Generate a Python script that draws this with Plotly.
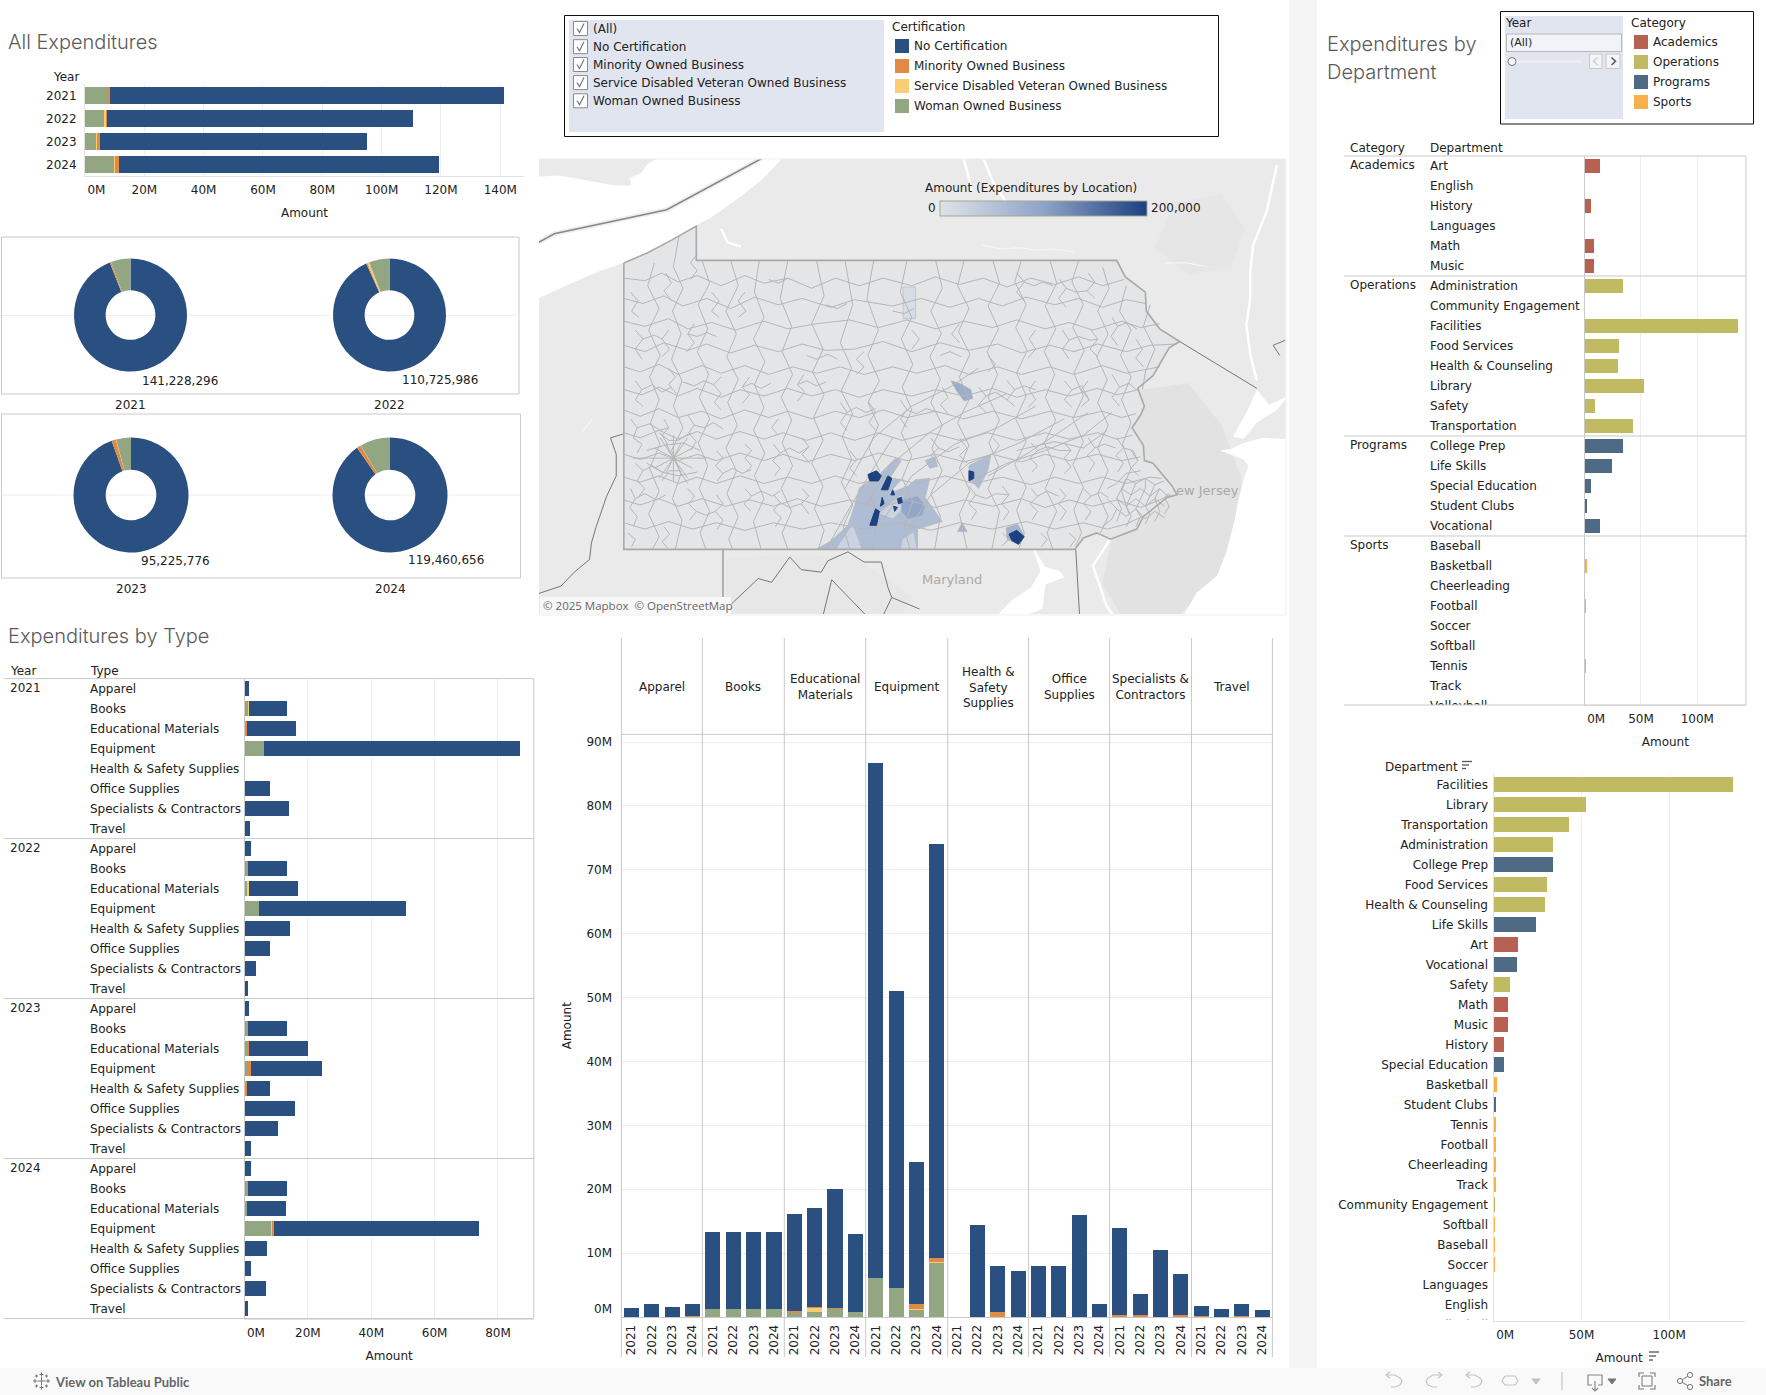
import numpy as np
import plotly.graph_objects as go
from plotly.colors import sample_colorscale

W, H = 1766, 1395
FONT = "DejaVu Sans"
TXT = "#222222"
GRID = "#eeeeee"
RULE = "#c9c9c9"

# ---------- data ----------
years = ["2021", "2022", "2023", "2024"]
cert_names = ["No Certification", "Minority Owned Business", "Service Disabled Veteran Owned Business", "Woman Owned Business"]
cert_colors = {"No Certification": "#2a5082", "Minority Owned Business": "#e08a46",
               "Service Disabled Veteran Owned Business": "#f8cd74", "Woman Owned Business": "#93a682"}

year_total = [141.228296, 110.725986, 95.225776, 119.460656]
year_woman = [7.9, 6.5, 3.95, 10.1]
year_service = [0.0, 0.6, 0.1, 0.1]
year_minority = [0.55, 0.4, 1.15, 1.4]
donut_labels = ["141,228,296", "110,725,986", "95,225,776", "119,460,656"]

type_names = ["Apparel", "Books", "Educational Materials", "Equipment", "Health & Safety Supplies",
              "Office Supplies", "Specialists & Contractors", "Travel"]
type_headers = ["Apparel", "Books", "Educational<br>Materials", "Equipment", "Health &<br>Safety<br>Supplies",
                "Office<br>Supplies", "Specialists &<br>Contractors", "Travel"]
# rows = type, columns = 2021..2024, millions
type_total = [[1.37, 2.06, 1.5, 2.06], [13.3, 13.3, 13.3, 13.3], [16.1, 17.0, 20.0, 13.0], [86.8, 51.1, 24.3, 74.1],
              [0.0, 14.35, 7.94, 7.2], [7.94, 7.94, 16.0, 2.06], [13.9, 3.6, 10.45, 6.7], [1.7, 1.2, 2.06, 1.07]]
type_woman = [[0, 0, 0, 0], [1.2, 1.2, 1.2, 1.2], [0.6, 0.75, 1.2, 0.75], [6.1, 4.5, 1.1, 8.5],
              [0, 0, 0, 0], [0, 0, 0, 0], [0, 0, 0, 0], [0, 0, 0, 0]]
type_service = [[0, 0, 0, 0], [0.1, 0, 0, 0], [0, 0.6, 0, 0], [0, 0, 0.1, 0.1],
                [0, 0, 0, 0], [0, 0, 0, 0], [0, 0, 0, 0], [0, 0, 0, 0]]
type_minority = [[0, 0, 0, 0.15], [0, 0, 0, 0], [0.3, 0.15, 0.2, 0], [0, 0.1, 0.9, 0.65],
                 [0, 0, 0.75, 0], [0, 0, 0, 0], [0.3, 0.3, 0, 0.3], [0.15, 0, 0.15, 0]]

categories = ["Academics", "Operations", "Programs", "Sports"]
category_colors = {"Academics": "#b76152", "Operations": "#c0bb62", "Programs": "#4f6a84", "Sports": "#f9b04b"}
dept_sorted = ["Facilities", "Library", "Transportation", "Administration", "College Prep", "Food Services",
               "Health & Counseling", "Life Skills", "Art", "Vocational", "Safety", "Math", "Music", "History",
               "Special Education", "Basketball", "Student Clubs", "Tennis", "Football", "Cheerleading", "Track",
               "Community Engagement", "Softball", "Baseball", "Soccer", "Languages", "English", "Volleyball"]
dept_amount = [136.3, 52.6, 42.9, 33.8, 33.8, 30.4, 29.2, 24.1, 13.9, 13.3, 9.3, 8.2, 8.2, 5.9, 5.9, 1.9, 1.3,
               0.7, 0.7, 0.6, 0.6, 0.5, 0.5, 0.5, 0.5, 0.0, 0.0, 0.0]
dept_category = ["Operations", "Operations", "Operations", "Operations", "Programs", "Operations", "Operations",
                 "Programs", "Academics", "Programs", "Operations", "Academics", "Academics", "Academics",
                 "Programs", "Sports", "Programs", "Sports", "Sports", "Sports", "Sports", "Operations", "Sports",
                 "Sports", "Sports", "Academics", "Academics", "Sports"]

# ---------- map geography (lon, lat) ----------
pa_outline = [(-80.52, 41.98), (-80.27, 42.06), (-80.02, 42.16), (-79.76, 42.27), (-79.76, 42.0), (-75.35, 42.0),
              (-75.26, 41.87), (-75.05, 41.75), (-75.04, 41.60), (-74.90, 41.46), (-74.69, 41.36), (-74.80, 41.31),
              (-74.97, 41.09), (-75.13, 40.99), (-75.06, 40.85), (-75.10, 40.78), (-75.19, 40.68), (-75.07, 40.54),
              (-75.06, 40.42), (-74.97, 40.40), (-74.77, 40.22), (-74.72, 40.15), (-74.82, 40.13), (-75.07, 39.98),
              (-75.14, 39.88), (-75.415, 39.80), (-75.56, 39.85), (-75.70, 39.81), (-75.79, 39.72), (-80.52, 39.72)]
lake_erie = [(-81.42, 42.66), (-81.21, 42.67), (-80.97, 42.64), (-80.62, 42.59), (-80.44, 42.59), (-80.46, 42.65),
             (-80.34, 42.69), (-80.27, 42.76), (-80.16, 42.81), (-78.85, 42.81), (-79.08, 42.63), (-79.32, 42.49),
             (-79.60, 42.34), (-79.78, 42.27), (-80.02, 42.16), (-80.27, 42.06), (-80.53, 41.98), (-80.79, 41.91),
             (-81.07, 41.82), (-81.42, 41.70)]
atlantic = [(-73.55, 40.59), (-73.81, 40.60), (-74.02, 40.56), (-74.16, 40.51), (-74.27, 40.50), (-74.02, 40.43),
            (-73.97, 40.38), (-74.02, 40.27), (-74.08, 40.09), (-74.11, 39.96), (-74.20, 39.70), (-74.30, 39.51),
            (-74.51, 39.38), (-74.65, 39.20), (-73.55, 39.20)]
ny_harbor = [(-73.88, 40.98), (-73.99, 40.80), (-74.13, 40.61), (-74.02, 40.59), (-73.88, 40.72), (-73.67, 40.82),
             (-73.55, 40.93), (-73.75, 40.86)]
chesapeake = [(-76.24, 39.75), (-76.10, 39.58), (-75.95, 39.55), (-75.90, 39.50), (-76.10, 39.44), (-76.13, 39.25),
              (-76.30, 39.20), (-76.60, 39.20), (-76.45, 39.32), (-76.25, 39.42), (-76.15, 39.55)]
dark_land = [[(-75.10, 40.98), (-74.60, 41.03), (-74.25, 40.70), (-74.05, 40.30), (-74.00, 39.95), (-74.20, 39.55),
              (-74.70, 39.20), (-75.30, 39.20), (-75.50, 39.45), (-75.40, 39.82), (-75.05, 40.00), (-74.72, 40.16),
              (-75.05, 40.42), (-75.18, 40.68)],
             [(-74.75, 42.45), (-74.25, 42.52), (-74.00, 42.25), (-74.15, 41.95), (-74.60, 41.88), (-74.95, 42.10)],
             [(-79.45, 39.65), (-78.80, 39.68), (-78.10, 39.66), (-77.50, 39.35), (-77.60, 39.20), (-79.45, 39.20)]]
water_lines = [[(-79.50, 42.25), (-79.43, 42.14), (-79.29, 42.11)], [(-76.96, 42.81), (-76.90, 42.65), (-76.87, 42.54)],
               [(-76.75, 42.81), (-76.65, 42.62), (-76.51, 42.46)],
               [(-73.67, 42.75), (-73.78, 42.38), (-73.92, 42.12), (-73.95, 41.91), (-73.95, 41.70), (-73.99, 41.49),
                (-73.95, 41.26), (-73.88, 41.05)],
               [(-75.42, 39.80), (-75.53, 39.67), (-75.60, 39.59), (-75.54, 39.46), (-75.46, 39.28), (-75.39, 39.20)]]
stream_lines = [[(-76.76, 42.12), (-76.55, 42.09), (-76.35, 42.10), (-76.20, 42.08), (-76.05, 42.09), (-75.80, 42.07)],
                [(-74.85, 41.98), (-74.62, 41.98), (-74.40, 41.95)], [(-80.85, 40.75), (-80.95, 40.65)],
                [(-76.24, 39.75), (-76.30, 39.82)]]
border_lines = [[(-81.42, 42.14), (-81.25, 42.21), (-80.07, 42.40), (-79.06, 42.81)]]
thin_borders = [[(-80.53, 40.63), (-80.66, 40.60), (-80.60, 40.47), (-80.60, 40.30), (-80.70, 40.14), (-80.81, 39.90),
                 (-80.86, 39.77), (-80.88, 39.64), (-81.04, 39.54), (-81.18, 39.43), (-81.42, 39.37)],
                [(-79.48, 39.72), (-79.48, 39.20)],
                [(-79.39, 39.29), (-79.11, 39.49), (-78.97, 39.46), (-78.78, 39.66), (-78.66, 39.56), (-78.45, 39.54),
                 (-78.38, 39.63), (-78.17, 39.70), (-78.00, 39.62), (-77.82, 39.62), (-77.75, 39.42), (-77.71, 39.34),
                 (-77.42, 39.25)],
                [(-78.34, 39.48), (-78.43, 39.20)], [(-78.34, 39.48), (-77.98, 39.20)], [(-77.71, 39.34), (-77.80, 39.20)],
                [(-75.78, 39.72), (-75.74, 39.20)],
                [(-74.69, 41.36), (-73.88, 40.99)],
                [(-73.55, 41.38), (-73.71, 41.33), (-73.64, 41.25)]]

# hand-traced, coarse school-district boundaries: west longitude*100, latitude*100
district_lines = [
    [8052,4186,8030,4184,8012,4190,7995,4183,7975,4188,7950,4180,7925,4188,7905,4182,7880,4186,7855,4178,7830,4186,7805,4180,7780,4186,7750,4180,7725,4187,7700,4181,7675,4186,7650,4179,7625,4186,7600,4181,7575,4187,7550,4180,7527,4185],
    [8052,4170,8032,4166,8010,4172,7990,4164,7965,4170,7940,4162,7915,4171,7890,4165,7865,4170,7835,4163,7810,4169,7770,4164,7740,4170,7710,4163,7680,4170,7655,4164,7630,4171,7600,4165,7575,4170,7550,4163,7525,4169,7505,4166],
    [8052,4152,8030,4148,8005,4154,7985,4146,7960,4151,7935,4145,7905,4152,7880,4146,7850,4150,7815,4153,7785,4147,7755,4153,7725,4146,7695,4152,7665,4147,7640,4153,7610,4146,7585,4151,7560,4145,7530,4152,7510,4147,7490,4150],
    [8052,4133,8030,4128,8010,4135,7985,4129,7965,4134,7940,4127,7915,4133,7890,4128,7865,4134,7840,4129,7810,4130,7780,4136,7750,4128,7720,4135,7690,4129,7660,4134,7635,4127,7605,4133,7580,4128,7555,4134,7525,4128,7500,4133,7472,4134],
    [8052,4116,8035,4112,8015,4118,7995,4110,7970,4117,7950,4111,7925,4117,7900,4110,7875,4116,7850,4111,7825,4116,7800,4110,7770,4116,7745,4111,7715,4117,7690,4110,7660,4116,7635,4110,7605,4116,7580,4110,7550,4117,7525,4111,7490,4116],
    [8052,4098,8033,4094,8015,4100,7995,4093,7975,4099,7950,4092,7930,4098,7905,4093,7880,4099,7855,4093,7830,4098,7805,4092,7780,4098,7750,4093,7725,4098,7695,4093,7665,4099,7640,4092,7610,4098,7585,4093,7555,4099,7535,4094,7512,4098],
    [8052,4082,8035,4077,8015,4083,7995,4076,7970,4081,7950,4075,7925,4082,7900,4076,7880,4081,7855,4075,7830,4081,7805,4076,7780,4082,7755,4076,7725,4081,7695,4075,7665,4081,7635,4075,7605,4081,7580,4076,7550,4081,7530,4076,7515,4079],
    [8052,4064,8035,4060,8015,4066,7995,4059,7975,4065,7955,4059,7930,4065,7905,4059,7885,4064,7860,4058,7835,4064,7810,4058,7785,4064,7760,4058,7730,4064,7700,4058,7670,4064,7640,4058,7610,4064,7585,4059,7555,4064,7535,4059,7519,4062],
    [8052,4047,8035,4043,8015,4048,7995,4042,7975,4047,7955,4042,7930,4048,7905,4042,7885,4047,7860,4041,7835,4047,7810,4042,7785,4048,7755,4042,7725,4047,7695,4041,7665,4047,7635,4041,7610,4047,7585,4042,7555,4047,7530,4042,7510,4045],
    [8052,4029,8035,4025,8015,4030,7995,4024,7975,4029,7955,4024,7930,4030,7905,4024,7880,4029,7855,4024,7830,4030,7805,4024,7775,4029,7745,4024,7715,4030,7685,4024,7655,4029,7625,4023,7600,4029,7575,4024,7550,4029,7525,4024,7500,4029,7488,4028],
    [8052,4011,8035,4007,8015,4012,7995,4006,7970,4012,7945,4006,7920,4011,7895,4006,7870,4012,7845,4006,7815,4011,7785,4005,7755,4011,7725,4005,7695,4011,7665,4006,7635,4012,7610,4005,7585,4011,7560,4006,7535,4011,7510,4005,7490,4011,7478,4015],
    [8052,3993,8030,3988,8005,3994,7980,3988,7955,3993,7925,3987,7895,3993,7865,3988,7835,3993,7800,3988,7765,3993,7730,3987,7700,3993,7665,3988,7630,3994,7600,3988,7570,3993,7545,3988,7525,3992,7508,3998],
    [8020,4198,8027,4180,8015,4162,8026,4145,8014,4125,8025,4108,8015,4090,8024,4072,8014,4055,8025,4036,8015,4018,8026,4000,8015,3982,8022,3972],
    [7994,4220,8000,4195,7990,4178,8001,4160,7992,4142,8002,4122,7991,4105,8000,4085,7990,4068,8002,4050,7992,4032,8001,4012,7991,3995,7998,3972],
    [7970,4200,7962,4182,7974,4165,7964,4146,7975,4128,7963,4110,7973,4092,7962,4075,7974,4056,7964,4038,7973,4020,7962,4002,7972,3985,7966,3972],
    [7940,4200,7932,4180,7945,4160,7934,4142,7944,4124,7932,4106,7943,4088,7933,4070,7945,4052,7934,4034,7944,4016,7932,3998,7942,3980,7938,3972],
    [7910,4200,7915,4175,7905,4155,7916,4138,7904,4120,7915,4102,7905,4084,7916,4066,7904,4048,7915,4030,7905,4012,7916,3994,7908,3972],
    [7880,4200,7888,4170,7876,4148,7886,4128,7875,4110,7887,4092,7876,4074,7886,4056,7875,4038,7887,4020,7876,4002,7886,3985,7880,3972],
    [7850,4200,7842,4172,7855,4150,7843,4130,7854,4112,7842,4094,7853,4076,7843,4058,7855,4040,7843,4022,7852,4004,7842,3987,7848,3972],
    [7820,4200,7812,4165,7825,4135,7813,4115,7824,4097,7812,4079,7823,4061,7813,4043,7824,4025,7812,4007,7822,3990,7815,3972],
    [7790,4200,7797,4170,7785,4145,7796,4125,7784,4105,7796,4088,7785,4070,7795,4052,7784,4034,7795,4016,7785,3998,7792,3972],
    [7755,4200,7762,4175,7750,4155,7761,4138,7749,4118,7760,4100,7750,4082,7761,4064,7750,4046,7760,4028,7749,4010,7758,3990,7752,3972],
    [7725,4200,7718,4178,7730,4160,7719,4142,7731,4124,7720,4106,7730,4088,7718,4070,7729,4052,7718,4034,7730,4016,7720,3998,7726,3972],
    [7695,4200,7702,4180,7690,4162,7701,4144,7689,4126,7700,4108,7690,4090,7702,4072,7690,4054,7700,4036,7689,4018,7700,4000,7692,3972],
    [7665,4200,7658,4182,7670,4164,7659,4146,7671,4128,7660,4110,7670,4092,7658,4074,7669,4056,7659,4038,7670,4020,7658,4002,7666,3972],
    [7635,4200,7642,4183,7630,4165,7641,4147,7629,4129,7640,4111,7630,4093,7641,4075,7630,4057,7642,4039,7630,4021,7640,4003,7632,3985,7638,3972],
    [7605,4200,7598,4182,7610,4164,7599,4146,7611,4128,7600,4110,7610,4092,7599,4074,7611,4056,7600,4038,7610,4020,7598,4002,7608,3985,7602,3972],
    [7575,4200,7582,4183,7570,4165,7581,4147,7569,4129,7580,4111,7570,4093,7581,4075,7570,4057,7581,4039,7570,4021,7580,4003,7572,3985,7578,3975],
    [7550,4195,7543,4178,7555,4160,7544,4142,7556,4124,7545,4106,7555,4088,7544,4070,7555,4052,7544,4034,7555,4016,7544,3998,7552,3985],
    [7525,4180,7532,4160,7520,4145,7531,4125,7520,4108,7530,4090,7520,4072,7529,4055,7520,4036,7530,4018,7522,4000],
    [7500,4165,7507,4148,7495,4130,7505,4112,7508,4098],
    [7820,4020,7790,4060,7750,4085,7710,4100,7680,4115],
    [7800,4005,7770,4040,7730,4065,7695,4080,7650,4095],
    [7780,3995,7750,4030,7705,4055,7660,4068,7620,4085],
    [7760,3980,7730,4015,7690,4040,7640,4055,7590,4075],
    [7690,4025,7650,4040,7610,4050,7570,4062,7540,4080],
    [7670,4030,7630,4047,7600,4062,7565,4080],
    [7840,3972,7815,4005,7795,4030,7770,4060],
    [7640,4050,7600,4057,7570,4052,7545,4066],
    [8042,4044,8030,4044,8000,4044,7985,4044,7965,4044],
    [8014,4060,8000,4044,7985,4028], [7985,4060,8000,4044,8015,4028], [8000,4062,8000,4044,8000,4026],
    [8020,4052,8000,4044,7980,4036], [8020,4036,8000,4044,7980,4052], [8008,4056,8000,4044,7992,4032],
    [7992,4056,8000,4044,8008,4032], [8028,4040,8012,4033,7995,4030,7975,4033], [8028,4050,8010,4054,7990,4056,7972,4050],
    [8015,4064,8005,4058,7995,4058,7982,4064], [8012,4026,8004,4034,7994,4034,7985,4024],
    [7535,4004,7525,3998,7515,4004,7505,3996,7495,4002,7485,3997], [7535,4012,7525,4006,7515,4012,7505,4006,7495,4012,7485,4006],
    [7530,4020,7520,4015,7510,4020,7500,4014,7490,4020,7480,4013], [7525,4028,7515,4024,7505,4028,7495,4023,7485,4026],
    [7535,3994,7530,4004,7535,4012,7530,4020,7525,4028], [7525,3990,7520,3998,7525,4006,7520,4015,7515,4024],
    [7515,3990,7510,3998,7515,4004,7510,4012,7505,4020,7505,4028], [7505,3992,7500,4000,7505,4006,7500,4014,7495,4023],
    [7495,3994,7490,4002,7495,4012,7490,4020], [7485,4000,7480,4006,7485,4013,7480,4016],
    [7550,3990,7540,3996,7535,4004,7545,4012], [7545,4020,7535,4024,7525,4032,7510,4034],
    [8045,4075,8038,4068,8042,4060,8033,4055,8038,4048], [8040,4040,8032,4034,8038,4026,8030,4020,8036,4014],
    [8045,4020,8040,4012,8046,4005,8038,3998,8042,3990], [8048,3985,8040,3980,8044,3974],
    [8010,4075,8005,4068,8012,4062,8006,4055], [7985,4078,7978,4070,7984,4064,7976,4057,7982,4050],
    [7985,4020,7978,4014,7984,4008,7976,4002,7983,3995], [8010,3990,8004,3984,8012,3978,8006,3973],
    [7955,4015,7948,4008,7956,4002,7948,3995,7954,3988], [7955,4050,7948,4044,7956,4038,7948,4032,7954,4026],
    [7925,4055,7918,4050,7925,4044,7918,4038,7924,4033], [7925,4020,7918,4014,7926,4008,7919,4002],
    [7895,4055,7888,4048,7896,4042,7888,4036,7894,4030], [7895,4015,7888,4009,7895,4003,7887,3997,7893,3990],
    [7865,4060,7858,4053,7865,4047,7857,4040], [7865,4020,7858,4014,7866,4008,7858,4000],
    [8040,4105,8033,4098,8040,4090,8032,4085], [8005,4115,7998,4108,8005,4102,7997,4095],
    [7950,4108,7958,4102,7950,4095,7957,4088,7950,4082], [7920,4108,7928,4100,7920,4094,7928,4087],
    [7890,4075,7897,4068,7890,4062], [7863,4110,7870,4102,7862,4096,7870,4089],
    [8040,4145,8032,4138,8040,4130,8033,4122], [8005,4145,8012,4138,8004,4130,8012,4124],
    [7978,4150,7985,4142,7978,4135,7986,4128], [8045,4175,8037,4168,8044,4160,8036,4155],
    [8008,4190,8002,4182,8010,4176,8002,4168], [7975,4205,7982,4198,7975,4192,7982,4185],
    [7960,4175,7952,4168,7960,4160,7952,4155], [7925,4175,7932,4168,7924,4160,7932,4155],
    [7718,4100,7712,4092,7720,4086,7712,4079], [7680,4100,7672,4093,7680,4086,7672,4080],
    [7650,4105,7642,4098,7650,4090,7642,4085], [7620,4105,7627,4098,7620,4090,7628,4084],
    [7590,4105,7582,4098,7590,4090,7582,4084], [7565,4105,7572,4098,7564,4090,7572,4085],
    [7540,4110,7532,4100,7540,4092,7532,4085], [7620,4145,7627,4138,7620,4130,7628,4123],
    [7592,4145,7585,4137,7592,4130,7585,4122], [7562,4145,7555,4138,7563,4130,7555,4124],
    [7540,4155,7534,4148,7541,4140,7534,4133], [7515,4138,7508,4130,7515,4123,7507,4116],
    [7595,4185,7588,4178,7596,4170,7588,4163], [7565,4190,7558,4183,7566,4176,7558,4170],
    [7640,4190,7632,4183,7640,4175,7632,4168],
    [7690,4022,7683,4015,7690,4008,7682,4002,7688,3995], [7655,4022,7648,4015,7656,4008,7648,4002,7654,3995],
    [7625,4020,7618,4014,7626,4008,7618,4002,7624,3995], [7595,4020,7588,4014,7596,4008,7588,4002,7594,3995],
    [7570,4020,7562,4014,7570,4008,7562,4002,7568,3995], [7655,3985,7648,3980,7655,3975],
    [7615,3985,7608,3980,7614,3974], [7585,3985,7578,3980,7584,3974],
    [7625,4056,7618,4050,7626,4044,7618,4038,7624,4033], [7590,4056,7583,4050,7590,4044,7583,4037,7590,4032],
    [7565,4060,7558,4052,7566,4046,7558,4040,7564,4033], [7535,4060,7528,4052,7536,4046,7528,4040,7534,4033],
    [7520,4050,7513,4042,7520,4036,7512,4030],
    [7825,4088,7818,4080,7825,4072,7818,4066], [7795,4088,7788,4080,7795,4072,7788,4066],
    [7762,4090,7755,4082,7762,4075,7755,4068], [7730,4060,7722,4052,7730,4046,7722,4040],
    [7700,4060,7692,4052,7700,4046,7692,4040], [7665,4060,7658,4054,7665,4047],
    [7815,4050,7808,4043,7815,4036,7808,4030], [7800,4128,7808,4122,7800,4116,7808,4110],
    [7750,4145,7742,4138,7750,4130], [7700,4150,7708,4142,7700,4135], [7670,4125,7662,4118,7670,4112],
    [8033,4098,8022,4102,8012,4096,8002,4100], [8038,4068,8025,4071,8014,4066,8005,4068],
    [8032,4034,8022,4038,8012,4033], [8040,4012,8030,4016,8018,4011,8008,4015],
    [7978,4070,7968,4068,7958,4072,7948,4067], [7976,4002,7966,3999,7956,4002],
    [7948,4032,7938,4036,7928,4032,7918,4035], [7918,4014,7908,4018,7896,4014,7888,4018],
    [7888,4048,7878,4052,7868,4048,7858,4053], [7888,4009,7878,4005,7866,4008],
    [7958,4102,7968,4105,7978,4101,7990,4104], [7928,4100,7918,4103,7908,4099,7898,4103],
    [8032,4138,8020,4141,8012,4138], [7985,4142,7975,4140,7965,4143,7955,4140],
    [7870,4102,7860,4105,7850,4101,7840,4104], [7818,4080,7808,4084,7798,4080,7788,4083],
    [7672,4093,7662,4096,7650,4090], [7642,4098,7632,4101,7620,4098],
    [7582,4098,7572,4101,7564,4090], [7532,4100,7522,4103,7515,4098],
    [7585,4137,7575,4140,7563,4137,7555,4138], [7534,4148,7524,4151,7514,4146],
    [7588,4178,7578,4175,7566,4176], [7632,4183,7622,4180,7612,4183,7602,4180],
    [7683,4015,7672,4012,7662,4016,7648,4015], [7618,4014,7608,4018,7596,4014],
    [7618,4050,7608,4053,7596,4050,7583,4050], [7558,4052,7548,4055,7536,4052],
    [7562,4014,7552,4017,7544,4013], [7528,4052,7518,4050,7513,4042],
    [7755,4082,7745,4079,7735,4083,7722,4080], [7722,4052,7712,4049,7700,4053],
    [7900,4185,7890,4182,7880,4186], [7840,4165,7828,4162,7818,4166], [7770,4160,7758,4158,7748,4162],
    [7720,4125,7710,4128,7698,4124], [7860,4125,7850,4122,7838,4126,7828,4122],
]

# shaded districts: amount, outline
shaded_districts = [
    (9000, [(-77.59, 41.79), (-77.46, 41.79), (-77.46, 41.54), (-77.59, 41.54)]),
    (60000, [(-78.50, 39.72), (-78.35, 39.785), (-78.17, 39.91), (-78.10, 40.065), (-78.05, 40.205), (-77.84, 40.31),
             (-77.67, 40.44), (-77.61, 40.42), (-77.74, 40.27), (-77.61, 40.27), (-77.74, 40.16), (-77.54, 40.22),
             (-77.46, 40.27), (-77.31, 40.28), (-77.36, 40.13), (-77.18, 39.94), (-77.44, 39.88), (-77.44, 39.72)]),
    (25000, [(-78.30, 39.72), (-78.12, 39.92), (-78.02, 39.72)]),
    (25000, [(-77.85, 40.00), (-77.62, 40.15), (-77.55, 40.06), (-77.70, 39.96)]),
    (25000, [(-77.60, 39.80), (-77.48, 39.86), (-77.44, 39.72), (-77.62, 39.72)]),
    (95000, [(-77.61, 40.11), (-77.44, 40.14), (-77.36, 40.065), (-77.39, 39.99), (-77.54, 39.96), (-77.61, 40.02)]),
    (85000, [(-77.09, 41.05), (-77.0, 41.03), (-76.88, 40.98), (-76.86, 40.91), (-76.95, 40.89), (-77.03, 40.97)]),
    (60000, [(-76.90, 40.38), (-76.67, 40.47), (-76.70, 40.345), (-76.80, 40.2), (-76.90, 40.28)]),
    (60000, [(-77.36, 40.42), (-77.26, 40.45), (-77.23, 40.375), (-77.31, 40.36)]),
    (75000, [(-77.02, 39.86), (-76.97, 39.93), (-76.92, 39.86)]),
    (75000, [(-76.51, 39.89), (-76.39, 39.92), (-76.32, 39.83), (-76.39, 39.76), (-76.50, 39.80)]),
    (200000, [(-77.96, 40.31), (-77.87, 40.34), (-77.82, 40.30), (-77.85, 40.26), (-77.94, 40.26)]),
    (200000, [(-77.75, 40.30), (-77.71, 40.28), (-77.75, 40.19), (-77.82, 40.19)]),
    (200000, [(-77.70, 40.19), (-77.68, 40.15), (-77.72, 40.15)]),
    (200000, [(-77.81, 40.13), (-77.79, 40.08), (-77.83, 40.06)]),
    (200000, [(-77.88, 40.04), (-77.84, 40.02), (-77.87, 39.91), (-77.94, 39.91)]),
    (200000, [(-77.65, 40.12), (-77.61, 40.13), (-77.60, 40.09), (-77.64, 40.08)]),
    (200000, [(-77.69, 40.06), (-77.65, 40.05), (-77.68, 40.02)]),
    (200000, [(-76.90, 40.34), (-76.85, 40.33), (-76.85, 40.28), (-76.90, 40.26)]),
    (200000, [(-76.48, 39.84), (-76.40, 39.87), (-76.32, 39.82), (-76.38, 39.76), (-76.45, 39.79)]),
]
color_stops = [[0, "#dfe3e8"], [0.5, "#8fa3c7"], [1, "#1c4080"]]
legend_amount_range = [0, 200000]

# ---------- helpers ----------
X = lambda p: p / W
Y = lambda p: 1 - p / H
layout_axes, annotations, shapes, n_axes = {}, [], [], [0]


def axes(x0, x1, y0, y1, xopts=None, yopts=None, hidden=False):
    n_axes[0] += 1
    s = "" if n_axes[0] == 1 else str(n_axes[0])
    base = dict(fixedrange=True, zeroline=False, showgrid=False, ticks="", automargin=False)
    xo, yo = dict(base), dict(base)
    if hidden:
        xo["visible"] = False
        yo["visible"] = False
    xo.update(xopts or {})
    yo.update(yopts or {})
    xo.update(domain=[X(x0), X(x1)], anchor="y" + s)
    yo.update(domain=[Y(y1), Y(y0)], anchor="x" + s)
    layout_axes["xaxis" + s] = xo
    layout_axes["yaxis" + s] = yo
    return "x" + s, "y" + s


def txt(x, y, text, size=12, color=TXT, anchor="left", family=FONT, weight=None, angle=0):
    f = dict(size=size, color=color, family=family)
    if weight:
        f["weight"] = weight
    annotations.append(dict(x=X(x), y=Y(y), xref="paper", yref="paper", text=text, showarrow=False, xanchor=anchor,
                            yanchor="middle", font=f, textangle=angle, borderpad=0, borderwidth=0, align="center"))


def rect(x0, y0, x1, y1, fill=None, line=None, width=1, layer="below"):
    shapes.append(dict(type="rect", xref="paper", yref="paper", x0=X(x0), x1=X(x1), y0=Y(y1), y1=Y(y0),
                       fillcolor=fill or "rgba(0,0,0,0)", line=dict(color=line or "rgba(0,0,0,0)", width=width if line else 0),
                       layer=layer))


def seg(pts, color=RULE, width=1, closed=False, fill=None, layer="above"):
    d = "M" + "L".join(f"{X(a):.6f},{Y(b):.6f}" for a, b in pts) + ("Z" if closed else "")
    shapes.append(dict(type="path", xref="paper", yref="paper", path=d, line=dict(color=color, width=width),
                       fillcolor=fill or "rgba(0,0,0,0)", layer=layer))


def pad_zero(n=6):
    return "\u00a0" * n + "0M"


def value_axis(tickvals, ticktext, maxv, standoff=12):
    return dict(range=[0, maxv], tickmode="array", tickvals=tickvals, ticktext=ticktext, showgrid=True, gridcolor=GRID,
                gridwidth=1, tickfont=dict(family=FONT, size=12, color=TXT), ticks="outside", ticklen=3,
                tickcolor="rgba(0,0,0,0)", showline=True, linecolor="#e2e2e2", linewidth=1,
                title=dict(text="Amount", font=dict(family=FONT, size=12, color=TXT), standoff=standoff))


fig = go.Figure()
spans = ["Woman Owned Business", "Service Disabled Veteran Owned Business", "Minority Owned Business", "No Certification"]

# ---------- page furniture ----------
rect(1289, 0, 1317, 1368, fill="#f5f5f5")
rect(0, 1368, W, H, fill="#f9f9f9")
TITLE = dict(size=20, color="#5a5a5a", family="Inter", weight=300)

# ---------- All Expenditures ----------
txt(8, 42, "All Expenditures", **TITLE)
xa, ya = axes(85, 524, 84, 176,
              value_axis([0, 20, 40, 60, 80, 100, 120, 140], [pad_zero(), "20M", "40M", "60M", "80M", "100M", "120M", "140M"], 148),
              dict(type="category", range=[3.5, -0.5], categoryorder="array", categoryarray=years,
                   tickfont=dict(family=FONT, size=12, color=TXT), ticks="outside", ticklen=5, tickcolor="rgba(0,0,0,0)",
                   showline=True, linecolor="#e2e2e2"))
year_nocert = [t - a - b - c for t, a, b, c in zip(year_total, year_woman, year_service, year_minority)]
year_series = {"Woman Owned Business": year_woman, "Service Disabled Veteran Owned Business": year_service,
               "Minority Owned Business": year_minority, "No Certification": year_nocert}
for name in spans:
    fig.add_trace(go.Bar(y=years, x=year_series[name], orientation="h", name=name, width=0.74, xaxis=xa, yaxis=ya,
                         marker=dict(color=cert_colors[name], line=dict(width=0))))
txt(79, 77, "Year", anchor="right")

# ---------- donuts ----------
rect(1.5, 237, 519, 394, line=RULE)
rect(1.5, 414, 520.5, 578, line=RULE)
seg([(2, 315.5), (519, 315.5)], color=GRID, layer="below")
seg([(2, 495), (520, 495)], color=GRID, layer="below")
donut_cx = [130.5, 389.5, 131, 390]
donut_cy = [315, 315, 495, 495]
donut_r = [56.5, 56.5, 57.5, 57.5]
label_x = [180, 440, 175, 446]
label_y = [380.5, 380, 561.5, 559.5]
year_y = [404.7, 404.7, 588.7, 588.7]
for i, yr in enumerate(years):
    vals = [year_nocert[i], year_minority[i], year_service[i], year_woman[i]]
    cx, cy, r = donut_cx[i], donut_cy[i], donut_r[i]
    fig.add_trace(go.Pie(values=vals, labels=cert_names, sort=False, direction="clockwise", rotation=0, hole=0.44,
                         textinfo="none", showlegend=False, marker=dict(colors=[cert_colors[c] for c in cert_names], line=dict(width=0)),
                         domain=dict(x=[X(cx - r), X(cx + r)], y=[Y(cy + r), Y(cy - r)]), name=yr))
    txt(label_x[i], label_y[i], donut_labels[i], anchor="center")
    txt(cx, year_y[i], yr, anchor="center")

# ---------- Expenditures by Type (horizontal) ----------
txt(8, 636, "Expenditures by Type", **TITLE)
txt(10, 670.5, "Year")
txt(90, 670.5, "Type")
T = np.array(type_total)
Wo, Se, Mi = np.array(type_woman), np.array(type_service), np.array(type_minority)
No = T - Wo - Se - Mi
type_series = {"Woman Owned Business": Wo, "Service Disabled Veteran Owned Business": Se, "Minority Owned Business": Mi, "No Certification": No}
rows = [(y, t) for y in range(4) for t in range(8)]
xa, ya = axes(244.5, 533.8, 678.6, 1318.5,
              value_axis([0, 20, 40, 60, 80], [pad_zero(), "20M", "40M", "60M", "80M"], 91.3),
              dict(range=[31.5, -0.5], showticklabels=False, showline=True, linecolor=RULE))
for name in spans:
    fig.add_trace(go.Bar(y=list(range(32)), x=[type_series[name][t][y] for y, t in rows], orientation="h", width=0.75,
                         name=name, xaxis=xa, yaxis=ya, showlegend=False, marker=dict(color=cert_colors[name], line=dict(width=0))))
xl, yl = axes(4, 244, 680, 1320, dict(range=[4, 244]), dict(range=[31.5, -0.5]), hidden=True)
fig.add_trace(go.Scatter(x=[90] * 32, y=list(range(32)), text=[type_names[t] for _, t in rows], mode="text", textposition="middle right",
                         textfont=dict(family=FONT, size=12, color=TXT), xaxis=xl, yaxis=yl, hoverinfo="skip"))
fig.add_trace(go.Scatter(x=[10] * 4, y=[-0.05, 7.95, 15.95, 23.95], text=years, mode="text", textposition="middle right",
                         textfont=dict(family=FONT, size=12, color=TXT), xaxis=xl, yaxis=yl, hoverinfo="skip"))
for yy in [678.6, 838.6, 998.5, 1158.5, 1318.5]:
    seg([(4, yy), (534, yy)])
seg([(533.8, 678.6), (533.8, 1318.5)])

# ---------- Legend / filter (middle) ----------
rect(564.5, 15.5, 1218.5, 136.5, fill="#ffffff", line="#111111")
rect(569, 20, 884, 132, fill="#e1e5f0")
filter_items = ["(All)"] + cert_names
for name, yy in zip(filter_items, [28.5, 46.7, 64.5, 82.6, 100.8]):
    rect(573.5, yy - 7, 587.5, yy + 7, fill="#ffffff", line="#8a8a8a")
    seg([(577, yy), (579.5, yy + 4), (584, yy - 5)], color="#777777", width=1.2)
    txt(593, yy + 0.3, name)
txt(892, 27, "Certification")
for name, yy in zip(cert_names, [46, 66, 86, 106]):
    rect(895, yy - 7, 909, yy + 7, fill=cert_colors[name])
    txt(914, yy + 0.3, name)

# ---------- Map ----------
lon_rng, lat_rng = [-81.41, -73.58], [39.21, 42.80]
xm, ym = axes(539, 1285.5, 159, 614, dict(range=lon_rng), dict(range=lat_rng), hidden=True)


def poly(pts, fill, line=None, width=0):
    xs = [p[0] for p in pts] + [pts[0][0]]
    ys = [p[1] for p in pts] + [pts[0][1]]
    fig.add_trace(go.Scatter(x=xs, y=ys, mode="lines", fill="toself", fillcolor=fill, xaxis=xm, yaxis=ym, hoverinfo="skip",
                             line=dict(color=line or fill, width=width)))


def multiline(lines, color, width):
    xs, ys = [], []
    for ln in lines:
        xs += [p[0] for p in ln] + [None]
        ys += [p[1] for p in ln] + [None]
    fig.add_trace(go.Scatter(x=xs, y=ys, mode="lines", line=dict(color=color, width=width), xaxis=xm, yaxis=ym, hoverinfo="skip"))


poly([(lon_rng[0], lat_rng[0]), (lon_rng[1], lat_rng[0]), (lon_rng[1], lat_rng[1]), (lon_rng[0], lat_rng[1])], "#eaeaea")
poly(dark_land[0], "#e2e2e2")
poly(dark_land[1], "#e6e6e6")
poly(dark_land[2], "#e7e7e7")
for w in [lake_erie, atlantic, ny_harbor, chesapeake]:
    poly(w, "#ffffff")
multiline(water_lines, "#ffffff", 2.5)
multiline(stream_lines, "#f6f6f6", 1.2)
poly(pa_outline, "#e4e5e6")
for amt, pts in shaded_districts:
    if amt < 200000:
        poly(pts, sample_colorscale(color_stops, amt / 200000)[0], "#aeb4be", 0.6)
mesh = [[(-ln[i] / 100, ln[i + 1] / 100) for i in range(0, len(ln), 2)] for ln in district_lines]
multiline(mesh, "#b6b6b6", 1)
for amt, pts in shaded_districts:
    if amt == 200000:
        poly(pts, sample_colorscale(color_stops, 1.0)[0], "#1c4080", 1)
multiline(thin_borders, "#777777", 1)
multiline(border_lines, "#efefef", 5)
multiline(border_lines, "#888888", 1.6)
multiline([pa_outline + pa_outline[:1]], "#a9a9a9", 1.6)
fig.add_trace(go.Scatter(x=lon_rng, y=lat_rng, mode="markers", xaxis=xm, yaxis=ym, hoverinfo="skip",
                         marker=dict(size=1, opacity=0, color=legend_amount_range, cmin=0, cmax=200000, colorscale=color_stops,
                                     colorbar=dict(orientation="h", x=X(940), xanchor="left", xref="paper", y=Y(217.5), yanchor="bottom", yref="paper",
                                                   lenmode="pixels", len=207, thicknessmode="pixels", thickness=15, xpad=0, ypad=0,
                                                   showticklabels=False, ticks="", outlinecolor="#a5a496", outlinewidth=1, borderwidth=0))))
seg([(539, 159), (1286, 159), (1286, 615), (539, 615)], color="#eeeeee")
txt(925, 188, "Amount (Expenditures by Location)")
txt(936.5, 208.5, "0", anchor="right")
txt(1151, 208.5, "200,000")
txt(952, 579, "Maryland", size=13, color="#a9a9a9", anchor="center")
txt(1176, 490, "ew Jersey", size=13, color="#a9a9a9")
rect(540, 597, 731, 614, fill="#f8f8f8", layer="above")
txt(543, 606, "\u00a9 2025 Mapbox  \u00a9 OpenStreetMap", size=11.5, color="#666666", family="Open Sans")

# ---------- Vertical chart by type ----------
bar_keys = [f"{type_names[t]} {years[y]}" for t in range(8) for y in range(4)]
bar_years = [years[y] for t in range(8) for y in range(4)]
xb, yb = axes(621.4, 1272.4, 734.4, 1317,
              dict(type="category", categoryorder="array", categoryarray=bar_keys, tickmode="array", tickvals=bar_keys, ticktext=bar_years,
                   tickangle=-90, tickfont=dict(family=FONT, size=12, color=TXT), ticks="outside", ticklen=2, tickcolor="rgba(0,0,0,0)",
                   showline=True, linecolor=RULE, range=[-0.5, 31.5]),
              dict(range=[0, 91.2], tickmode="array", tickvals=[10 * i for i in range(10)],
                   ticktext=["0M<br>\u00a0"] + [f"{10 * i}M" for i in range(1, 10)],
                   showgrid=True, gridcolor=GRID, tickfont=dict(family=FONT, size=12, color=TXT), ticks="outside", ticklen=6,
                   tickcolor="rgba(0,0,0,0)", title=dict(text="Amount", font=dict(family=FONT, size=12, color=TXT), standoff=12)))
for name in spans:
    fig.add_trace(go.Bar(x=bar_keys, y=[type_series[name][t][y] for t in range(8) for y in range(4)], width=0.74, name=name,
                         xaxis=xb, yaxis=yb, showlegend=False, marker=dict(color=cert_colors[name], line=dict(width=0))))
col_edges = [621.4, 702.4, 784.3, 865.7, 947.7, 1028.6, 1109.6, 1191.5, 1272.4]
for e in col_edges:
    seg([(e, 638), (e, 1357)])
seg([(621.4, 734.4), (1272.4, 734.4)])
for i, h in enumerate(type_headers):
    txt((col_edges[i] + col_edges[i + 1]) / 2, 687, h, anchor="center")

# ---------- Expenditures by Department ----------
txt(1327, 44, "Expenditures by", **TITLE)
txt(1327, 72, "Department", **TITLE)
rect(1500.5, 11.5, 1753.5, 124, fill="#ffffff", line="#111111")
rect(1505, 16, 1623, 119, fill="#e1e5f0")
txt(1505, 23, "Year")
rect(1506.5, 34, 1621.5, 51.5, fill="#f1f3f8", line="#b8b8b8")
txt(1510, 42.5, "(All)", size=11)
seg([(1516, 61.5), (1581, 61.5)], color="#eceef3", width=3)
shapes.append(dict(type="circle", xref="paper", yref="paper", x0=X(1508), x1=X(1516), y0=Y(65.5), y1=Y(57.5),
                   line=dict(color="#777777", width=1), fillcolor="#f6f6f6"))
rect(1589.5, 54, 1602, 68.5, fill="#f4f4f6", line="#c8c8c8")
rect(1606, 54, 1620, 68.5, fill="#f4f4f6", line="#c8c8c8")
seg([(1597.5, 57.5), (1593.5, 61.3), (1597.5, 65)], color="#cfcfcf", width=1.5)
seg([(1611.5, 57.5), (1615.5, 61.3), (1611.5, 65)], color="#555555", width=1.5)
txt(1631, 23, "Category")
for c, yy in zip(categories, [42, 62, 82, 102]):
    rect(1634, yy - 7, 1648, yy + 7, fill=category_colors[c])
    txt(1653, yy + 0.3, c)

amount_of = dict(zip(dept_sorted, dept_amount))
cat_of = dict(zip(dept_sorted, dept_category))
dept_table = ["Art", "English", "History", "Languages", "Math", "Music", "Administration", "Community Engagement", "Facilities",
              "Food Services", "Health & Counseling", "Library", "Safety", "Transportation", "College Prep", "Life Skills",
              "Special Education", "Student Clubs", "Vocational", "Baseball", "Basketball", "Cheerleading", "Football", "Soccer",
              "Softball", "Tennis", "Track", "Volleyball"]
# bars narrower than a pixel on this shorter scale are not painted in the source
painted = [amount_of[d] if amount_of[d] >= 0.65 else 0 for d in dept_table]
table_range = [26.95, -0.5]
xa, ya = axes(1584.7, 1746, 156, 705,
              value_axis([0, 50, 100], [pad_zero(), "50M", "100M"], 143.3),
              dict(range=table_range, showticklabels=False, showline=True, linecolor=RULE))
fig.add_trace(go.Bar(y=list(range(28)), x=painted, orientation="h", width=0.73, xaxis=xa, yaxis=ya,
                     marker=dict(color=[category_colors[cat_of[d]] for d in dept_table], line=dict(width=0)), name="Amount"))
xl, yl = axes(1344, 1584, 157.2, 705, dict(range=[1344, 1584]), dict(range=[26.89, -0.5]), hidden=True)
fig.add_trace(go.Scatter(x=[1430] * 28, y=list(range(28)), text=dept_table, mode="text", textposition="middle right",
                         textfont=dict(family=FONT, size=12, color=TXT), xaxis=xl, yaxis=yl, hoverinfo="skip"))
fig.add_trace(go.Scatter(x=[1350] * 4, y=[-0.05, 5.95, 13.95, 18.95], text=categories, mode="text", textposition="middle right",
                         textfont=dict(family=FONT, size=12, color=TXT), xaxis=xl, yaxis=yl, hoverinfo="skip"))
txt(1350, 147.5, "Category")
txt(1430, 147.5, "Department")
for yy in [156, 276, 436, 536, 705]:
    seg([(1344, yy), (1746, yy)])
seg([(1746, 156), (1746, 705)])

# ---------- Department sorted ----------
sorted_range = [26.83, -0.5]
xa, ya = axes(1493.7, 1744.7, 774, 1320.6,
              value_axis([0, 50, 100], [pad_zero(), "50M", "100M"], 143),
              dict(range=sorted_range, showticklabels=False, showline=True, linecolor="#e2e2e2"))
fig.add_trace(go.Bar(y=list(range(28)), x=dept_amount, orientation="h", width=0.75, xaxis=xa, yaxis=ya,
                     marker=dict(color=[category_colors[c] for c in dept_category], line=dict(width=0)), name="Amount"))
xl, yl = axes(1310, 1491, 775.8, 1319.5, dict(range=[1310, 1491]), dict(range=[26.685, -0.5]), hidden=True)
fig.add_trace(go.Scatter(x=[1488] * 28, y=list(range(28)), text=dept_sorted, mode="text", textposition="middle left",
                         textfont=dict(family=FONT, size=12, color=TXT), xaxis=xl, yaxis=yl, hoverinfo="skip"))
txt(1458, 766.7, "Department", anchor="right")
for (a, b, yy) in [(1462, 1472, 761.5), (1462, 1469, 765), (1462, 1466, 768.5)]:
    seg([(a, yy), (b, yy)], color="#555555", width=1.3)
for (a, b, yy) in [(1649, 1659, 1352), (1649, 1656, 1356), (1649, 1653, 1360)]:
    seg([(a, yy), (b, yy)], color="#555555", width=1.3)

# ---------- toolbar ----------
ICON = "#c4c4c4"
txt(55, 1381.6, "View on Tableau Public", size=13, color="#666666", family="Lato", weight=700)
for (cx, cy, s) in [(41.5, 1381, 4), (41.5, 1374.5, 2), (41.5, 1387.5, 2), (35, 1381, 2), (48, 1381, 2), (36.5, 1376, 1.5), (46.5, 1376, 1.5), (36.5, 1386, 1.5), (46.5, 1386, 1.5)]:
    seg([(cx - s, cy), (cx + s, cy)], color="#777777", width=1)
    seg([(cx, cy - s), (cx, cy + s)], color="#777777", width=1)
undo = [(1387, 1375), (1395, 1375), (1400, 1378), (1402, 1381), (1400, 1385), (1395, 1387), (1391, 1387)]
seg(undo, color=ICON, width=1.2)
seg([(1390, 1372), (1386, 1375), (1390, 1378)], color=ICON, width=1.2)
seg([(2828 - a, b) for a, b in undo], color=ICON, width=1.2)
seg([(1438, 1372), (1442, 1375), (1438, 1378)], color=ICON, width=1.2)
seg([(a + 80, b) for a, b in undo], color=ICON, width=1.2)
seg([(1470, 1372), (1466, 1375), (1470, 1378)], color=ICON, width=1.2)
seg([(1505, 1376), (1515, 1376), (1518, 1381), (1515, 1385), (1505, 1385), (1502, 1381), (1505, 1376)], color=ICON, width=1.2)
seg([(1532, 1379), (1540, 1379), (1536, 1384)], color=ICON, closed=True, fill=ICON)
seg([(1562, 1372), (1562, 1390)], color=ICON, width=1.2)
seg([(1592, 1385), (1588, 1385), (1588, 1375), (1602, 1375), (1602, 1385), (1598, 1385)], color="#888888", width=1.2)
seg([(1595, 1381), (1595, 1391)], color="#888888", width=1.2)
seg([(1592, 1388), (1595, 1391), (1598, 1388)], color="#888888", width=1.2)
seg([(1608, 1379), (1616, 1379), (1612, 1384)], color="#777777", closed=True, fill="#777777")
rect(1642, 1376, 1652, 1386, line="#777777", layer="above")
for pts in [[(1639, 1377), (1639, 1373), (1644, 1373)], [(1650, 1373), (1655, 1373), (1655, 1377)],
            [(1639, 1385), (1639, 1389), (1644, 1389)], [(1650, 1389), (1655, 1389), (1655, 1385)]]:
    seg(pts, color="#777777", width=1.1)
seg([(1690, 1375), (1680, 1381), (1690, 1387)], color="#777777", width=1)
for (cx, cy) in [(1680, 1381), (1690, 1375), (1690, 1387)]:
    shapes.append(dict(type="circle", xref="paper", yref="paper", x0=X(cx - 2.6), x1=X(cx + 2.6), y0=Y(cy + 2.6), y1=Y(cy - 2.6),
                       line=dict(color="#777777", width=1), fillcolor="#f9f9f9"))
txt(1699, 1381, "Share", size=13, color="#666666", family="Lato", weight=700)

fig.update_layout(width=W, height=H, autosize=False, margin=dict(l=0, r=0, t=0, b=0, pad=0), paper_bgcolor="#ffffff",
                  plot_bgcolor="rgba(0,0,0,0)", barmode="stack", showlegend=False, font=dict(family=FONT, size=12, color=TXT),
                  annotations=annotations, shapes=shapes, **layout_axes)
fig.write_html("out.html", config=dict(displayModeBar=False),
               post_script="document.body.style.margin='0';document.body.style.overflow='hidden';")
